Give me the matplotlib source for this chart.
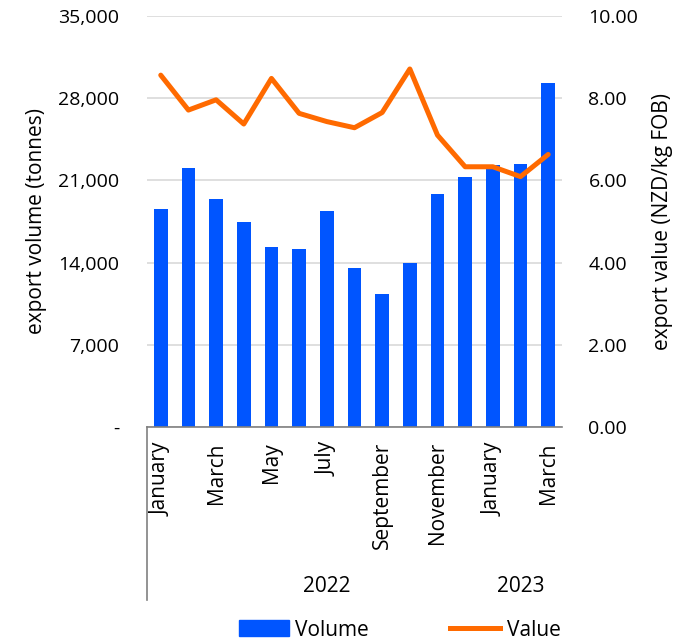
import matplotlib
matplotlib.use("Agg")
import matplotlib.pyplot as plt
from matplotlib.patches import Patch
from matplotlib.lines import Line2D
from matplotlib.ticker import FuncFormatter, MultipleLocator
import matplotlib.transforms as mtransforms

plt.rcParams['font.family'] = ['Open Sans', 'DejaVu Sans']

months = ["January", "February", "March", "April", "May", "June", "July",
          "August", "September", "October", "November", "December",
          "January", "February", "March"]
years = ["2022", "2023"]
year_spans = [(0, 11), (12, 14)]
volume = [18540, 22080, 19440, 17480, 15300, 15130, 18420, 13570, 11300,
          13990, 19820, 21290, 22280, 22370, 29270]
value = [8.56, 7.71, 7.96, 7.37, 8.48, 7.63, 7.43, 7.28, 7.65, 8.71,
         7.10, 6.33, 6.33, 6.09, 6.63]

BLUE = "#0055FF"
ORANGE = "#FF6A00"
FS = 15
FSN = 14

fig = plt.figure(figsize=(6.93, 6.39), dpi=100)
ax = fig.add_axes([0.212, 0.332, 0.599, 0.643])
ax2 = ax.twinx()

x = list(range(len(months)))
ax.bar(x, volume, width=0.5, color=BLUE, zorder=2)
ax2.plot(x, value, color=ORANGE, lw=3.6, solid_capstyle='round',
         solid_joinstyle='round', zorder=3)

ax.set_xlim(-0.5, len(months) - 0.5)
ax.set_ylim(0, 35000)
ax2.set_ylim(0, 10)
ax.yaxis.set_major_locator(MultipleLocator(7000))
ax2.yaxis.set_major_locator(MultipleLocator(2))
ax.yaxis.set_major_formatter(FuncFormatter(lambda v, p: "-" if v == 0 else f"{v:,.0f}"))
ax2.yaxis.set_major_formatter(FuncFormatter(lambda v, p: f"{v:.2f}"))
ax.grid(axis='y', color='#d9d9d9', lw=1.2, zorder=0)
ax.set_axisbelow(True)

for a in (ax, ax2):
    for s in ('top', 'left', 'right', 'bottom'):
        a.spines[s].set_visible(False)
ax.spines['bottom'].set_visible(True)
ax.spines['bottom'].set_color('#808080')
ax.spines['bottom'].set_linewidth(1.2)

ax.tick_params(axis='y', length=0, pad=20, labelsize=FSN)
ax2.tick_params(axis='y', length=0, pad=19, labelsize=FSN)
ax.set_xticks(x)
ax.set_xticklabels([m if i % 2 == 0 else "" for i, m in enumerate(months)],
                   rotation=90, fontsize=FS, va='top', ha='center')
ax.tick_params(axis='x', length=0, pad=11)

ax.set_ylabel("export volume (tonnes)", fontsize=FS, labelpad=8)
ax2.set_ylabel("export value (NZD/kg FOB)", fontsize=FS, labelpad=10)

trans = mtransforms.blended_transform_factory(ax.transData, fig.transFigure)
for yr, (a0, a1) in zip(years, year_spans):
    ax.text((a0 + a1) / 2 + (0.5 if a1 - a0 > 5 else 0), 1 - 587 / 639, yr,
            transform=trans, ha='center', va='center', fontsize=FS)

# left separator line of the category axis
fig.add_artist(Line2D([0.212, 0.212], [1 - 427 / 639, 1 - 600 / 639],
                      transform=fig.transFigure, color='#808080', lw=1.2))

handles = [Patch(color=BLUE, label="Volume"),
           Line2D([0], [0], color=ORANGE, lw=3.6, label="Value")]
fig.legend(handles=handles, loc='center', bbox_to_anchor=(0.577, 1 - 630 / 639),
           ncol=2, frameon=False, fontsize=FS, handlelength=2.4,
           handleheight=0.8, handletextpad=0.3, columnspacing=3.9)

fig.savefig("out.png", dpi=100)
